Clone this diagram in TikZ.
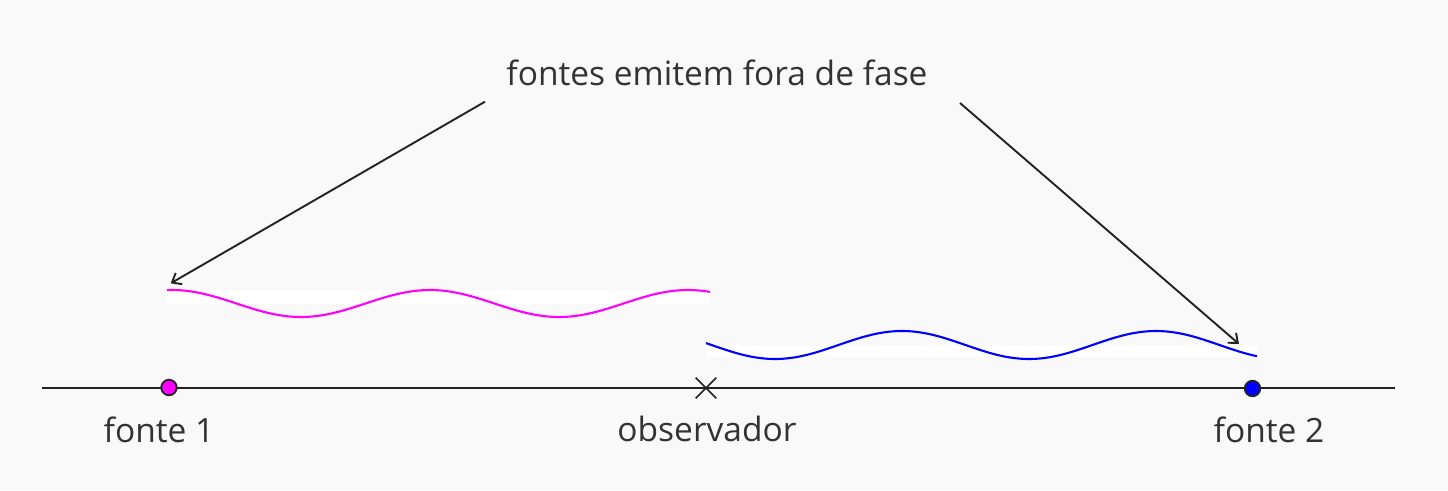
\documentclass[tikz,border=0pt]{standalone}
\usepackage{fontspec}
\setmainfont{Open Sans}
\usetikzlibrary{arrows.meta,shapes.misc}
\definecolor{bg}{HTML}{F9F9F9}
\definecolor{ink}{HTML}{333333}
\definecolor{stroke}{HTML}{222222}
\definecolor{mag}{HTML}{FF00FF}
\definecolor{blu}{HTML}{0000FF}
\begin{document}
\begin{tikzpicture}[x=1pt,y=-1pt,
  lbl/.style={font=\fontsize{33.5}{40}\selectfont, text=ink, inner sep=0pt, anchor=base},
  ptmark/.style={circle, draw=stroke, line width=1.8pt, minimum size=15.5pt, inner sep=0pt},
  obsmark/.style={cross out, draw=stroke, line width=1.7pt, minimum size=19pt, inner sep=0pt},
  wave/.style={line width=2.1pt},
  band/.style={fill=white, draw=none},
  axisline/.style={draw=stroke, line width=1.8pt},
  pointer/.style={draw=stroke, line width=1.9pt, -{Straight Barb[length=8pt,width=13pt]}}]
\fill[bg] (0,0) rectangle (1448,490);
\useasboundingbox (0,0) rectangle (1448,490);
% white bands behind the waves
\fill[band] (167,290) rectangle (710,303.5);
\fill[band] (706,345) rectangle (1257,357);
% waves
\draw[wave, mag] plot[domain=167:710, samples=160, variable=\x] (\x, {303.5-13.5*cos((\x-172)/258*360)});
\draw[wave, blu] plot[domain=706:1257, samples=160, variable=\x] (\x, {345+14*cos((\x-775)/254*360)});
% axis
\coordinate (axL) at (42,388);
\coordinate (axR) at (1395,388);
\draw[axisline] (axL) -- (axR);
% points
\node[ptmark, fill=mag] (f1) at (169,387.5) {};
\node[ptmark, fill=blu] (f2) at (1252.5,388.5) {};
\node[obsmark] (obs) at (706,388) {};
% labels
\node[lbl] (l1) at (159,442) {fonte 1};
\node[lbl] (lobs) at (707,441) {observador};
\node[lbl] (l2) at (1269,442) {fonte 2};
\node[lbl] (title) at (717,85) {fontes emitem fora de fase};
% arrows
\coordinate (a1s) at (485,101.7);
\coordinate (a1e) at (170.7,283.3);
\coordinate (a2s) at (960,103);
\coordinate (a2e) at (1239,344);
\draw[pointer] (a1s) -- (a1e);
\draw[pointer] (a2s) -- (a2e);
\end{tikzpicture}
\end{document}
